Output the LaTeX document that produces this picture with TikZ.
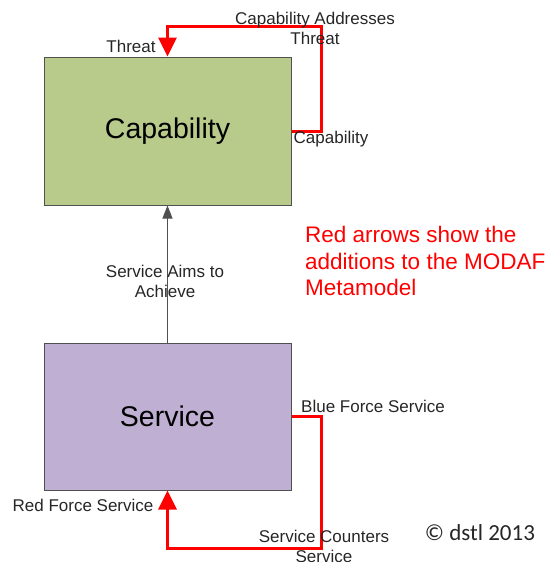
\documentclass[tikz,border=0pt]{standalone}
\usepackage{fontspec}
\setmainfont{Liberation Sans}
\newfontfamily\calibrifont{Carlito}
\usetikzlibrary{arrows.meta}
\definecolor{capgreen}{HTML}{B8CB8A}
\definecolor{svcpurple}{HTML}{BFB0D3}
\definecolor{boxedge}{HTML}{505050}
\definecolor{labelgray}{HTML}{262626}
\tikzset{
  block/.style={draw=boxedge, line width=1pt, minimum width=247pt, inner sep=0pt,
    font=\fontsize{28.5}{32}\selectfont, text=black},
  lbl/.style={font=\fontsize{17}{20}\selectfont, text=labelgray, inner sep=0pt, align=center},
  addlink/.style={draw=red, line width=3pt, -{Triangle[length=19pt,width=18pt]}},
  baselink/.style={draw=boxedge, line width=1pt, -{Triangle[length=13pt,width=10pt]}},
}
\begin{document}
\begin{tikzpicture}[x=1pt,y=-1pt]
\useasboundingbox (0,0) rectangle (550,562);

% the two metamodel elements
\node[block, fill=capgreen, minimum height=148pt] (cap) at (167.5,131) {Capability};
\node[block, fill=svcpurple, minimum height=147pt] (svc) at (167.5,416.5) {Service};

% existing MODAF relationship
\draw[baselink] (svc.north) -- (cap.south);
\node[lbl] (aims) at (165,281) {Service Aims to\\Achieve};

% added relationship: Capability Addresses Threat
\coordinate (tr) at (321,26);
\draw[addlink] (cap.east) -| (tr) -| (cap.north);
\node[lbl] (addr) at (315,28) {Capability Addresses\\Threat};
\node[lbl] (threat) at (131,46) {Threat};
\node[lbl] (capend) at (331,139) {Capability};

% added relationship: Service Counters Service
\coordinate (br) at (321,548);
\draw[addlink] (svc.east) -| (br) -| (svc.south);
\node[lbl] (blue) at (373,406) {Blue Force Service};
\node[lbl] (redf) at (83,505) {Red Force Service};
\node[lbl] (counter) at (324,546) {Service Counters\\Service};

% note and copyright
\node[anchor=west, align=left, inner sep=0pt, text=red,
      font=\fontsize{22.5}{26.5}\selectfont] (note) at (305,261)
      {Red arrows show the\\additions to the MODAF\\Metamodel};
\node[inner sep=0pt, text=labelgray, font=\calibrifont\fontsize{23}{26}\selectfont]
      (copy) at (480,533) {© dstl 2013};
\end{tikzpicture}
\end{document}
